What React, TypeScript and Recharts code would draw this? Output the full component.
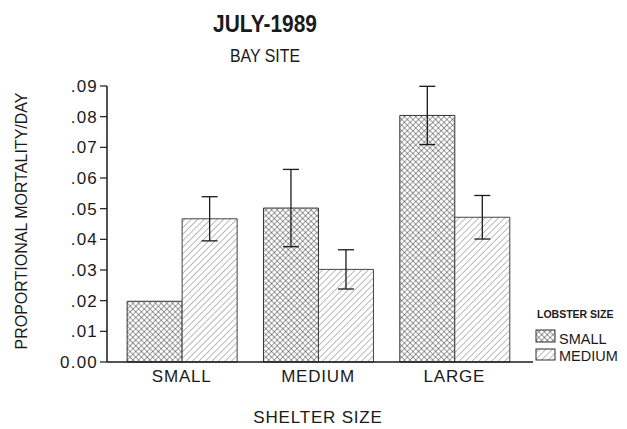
import React from 'react';
import { BarChart, Bar, XAxis, YAxis, ErrorBar, Customized } from 'recharts';

// values
const shelterSizes = ['SMALL', 'MEDIUM', 'LARGE'];
const smallLobster = [0.0198, 0.0502, 0.0804];
const smallLobsterErr = [null, 0.0126, 0.0095];
const mediumLobster = [0.0467, 0.0302, 0.0472];
const mediumLobsterErr = [0.0072, 0.0064, 0.0071];
const yTicks = [0, 0.01, 0.02, 0.03, 0.04, 0.05, 0.06, 0.07, 0.08, 0.09];

const data = shelterSizes.map((name, i) => ({
  name,
  small: smallLobster[i],
  smallErr: smallLobsterErr[i],
  medium: mediumLobster[i],
  mediumErr: mediumLobsterErr[i],
}));

const FONT = '"Liberation Sans", Arial, Helvetica, sans-serif';
const INK = '#1a1a1a';

const fmtTick = (v: number) => (v === 0 ? '0.00' : v.toFixed(2).replace(/^0/, ''));

const Overlay = () => (
  <g fontFamily={FONT} fill={INK}>
    <defs>
      <pattern id="cross" patternUnits="userSpaceOnUse" width={4} height={4} patternTransform="rotate(45)">
        <rect width={4} height={4} fill="#fff" />
        <path d="M0,0 H4 M0,0 V4" stroke="#2b2b2b" strokeWidth={0.9} />
      </pattern>
      <pattern id="diag" patternUnits="userSpaceOnUse" width={4.6} height={4.6} patternTransform="rotate(45)">
        <rect width={4.6} height={4.6} fill="#fff" />
        <path d="M0,0 V4.6" stroke="#555" strokeWidth={0.8} />
      </pattern>
    </defs>
    <text x={265} y={32} textAnchor="middle" fontSize={24} fontWeight="bold" textLength={104} lengthAdjust="spacingAndGlyphs">
      JULY-1989
    </text>
    <text x={265} y={62} textAnchor="middle" fontSize={19} textLength={70} lengthAdjust="spacingAndGlyphs">
      BAY SITE
    </text>
    <text x={27} y={221} textAnchor="middle" fontSize={16} transform="rotate(-90 27 221)">
      PROPORTIONAL MORTALITY/DAY
    </text>
    <text x={318} y={423} textAnchor="middle" fontSize={17} letterSpacing={0.8}>
      SHELTER SIZE
    </text>
    <g transform="translate(536,300)">
      <text x={1} y={18} fontSize={10.5} fontWeight="bold">LOBSTER SIZE</text>
      <rect x={0} y={30} width={19} height={12} fill="url(#cross)" stroke={INK} strokeWidth={0.9} />
      <text x={23} y={44} fontSize={14.5}>SMALL</text>
      <rect x={0} y={49} width={19} height={11} fill="url(#diag)" stroke={INK} strokeWidth={0.9} />
      <text x={23} y={61} fontSize={14.5}>MEDIUM</text>
    </g>
  </g>
);

export default function App() {
  return (
    <div style={{ position: 'absolute', left: 0, top: 0, width: 627, height: 429, background: '#fff' }}>
      <BarChart
        width={627}
        height={429}
        data={data}
        margin={{ top: 86, right: 94, bottom: 37, left: 0 }}
        barGap={0}
        barCategoryGap="10%"
        style={{ fontFamily: FONT }}
      >
        <XAxis
          dataKey="name"
          height={30}
          padding={{ left: 6.5, right: 10.5 }}
          tickLine={false}
          axisLine={{ stroke: INK, strokeWidth: 1.5 }}
          tick={{ fill: INK, fontSize: 17, letterSpacing: 0.8 }}
        />
        <YAxis
          width={107}
          domain={[0, 0.09]}
          ticks={yTicks}
          tickFormatter={fmtTick}
          tickSize={7}
          tickLine={{ stroke: INK, strokeWidth: 1.2 }}
          axisLine={{ stroke: INK, strokeWidth: 1.5 }}
          tick={{ fill: INK, fontSize: 17, letterSpacing: 1.2 }}
        />
        <Bar dataKey="small" name="SMALL" fill="url(#cross)" stroke="#333" strokeWidth={1} isAnimationActive={false}>
          <ErrorBar dataKey="smallErr" width={8} stroke={INK} strokeWidth={1.3} direction="y" isAnimationActive={false} />
        </Bar>
        <Bar dataKey="medium" name="MEDIUM" fill="url(#diag)" stroke="#444" strokeWidth={1} isAnimationActive={false}>
          <ErrorBar dataKey="mediumErr" width={8} stroke={INK} strokeWidth={1.3} direction="y" isAnimationActive={false} />
        </Bar>
        <Customized component={<Overlay />} />
      </BarChart>
    </div>
  );
}
